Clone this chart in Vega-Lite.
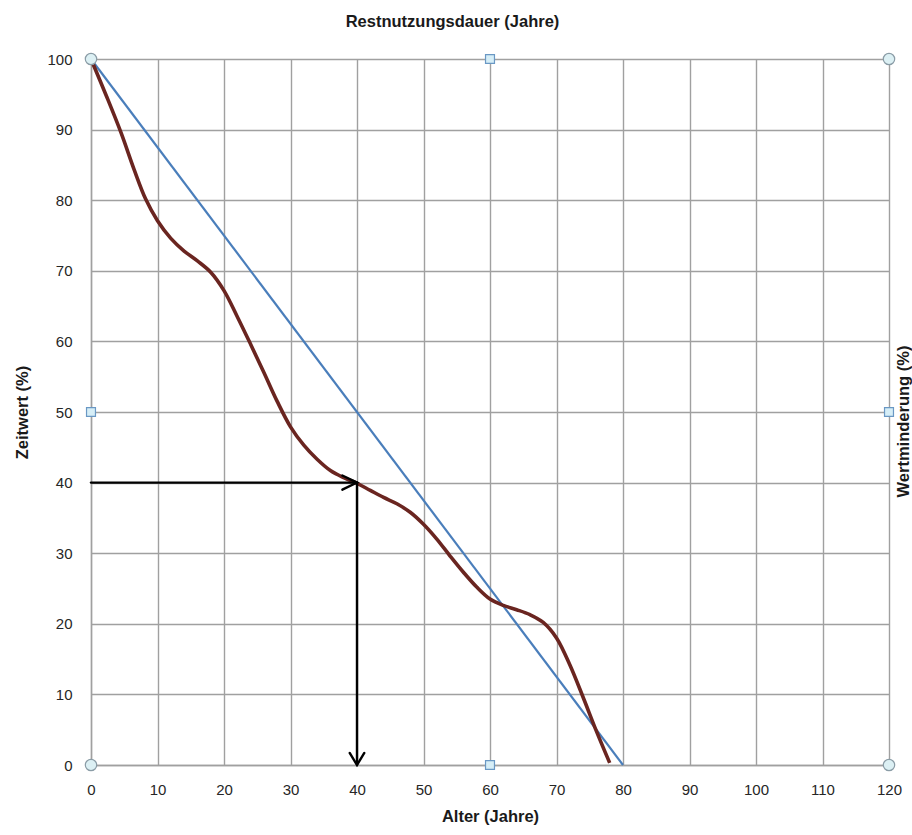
{
  "$schema": "https://vega.github.io/schema/vega-lite/v6.json",
  "width": 798,
  "height": 706,
  "autosize": {"type": "none"},
  "padding": {"left": 91, "top": 59, "right": 23, "bottom": 70},
  "background": "white",
  "config": {
    "view": {"stroke": null},
    "font": "Liberation Sans",
    "axis": {
      "labelFont": "Liberation Sans",
      "labelFontSize": 15,
      "labelColor": "#262626",
      "labelFlush": false,
      "labelOverlap": false,
      "titleFont": "Liberation Sans",
      "titleFontSize": 16.5,
      "titleFontWeight": "bold",
      "titleColor": "#1a1a1a",
      "gridColor": "#a0a0a0",
      "gridWidth": 1.4,
      "gridOpacity": 1,
      "domainColor": "#a0a0a0",
      "domainWidth": 1.4,
      "ticks": false
    }
  },
  "datasets": {
    "kurve": [
      {"alter": 0, "wert": 100}, {"alter": 2.3, "wert": 94.8}, {"alter": 4.5, "wert": 89.6},
      {"alter": 6.5, "wert": 84.3}, {"alter": 8.2, "wert": 80.2}, {"alter": 10, "wert": 77.1},
      {"alter": 12, "wert": 74.6}, {"alter": 14, "wert": 72.8}, {"alter": 16, "wert": 71.4},
      {"alter": 18, "wert": 69.8}, {"alter": 20, "wert": 67.2},
      {"alter": 22, "wert": 63.5}, {"alter": 24, "wert": 59.6},
      {"alter": 26, "wert": 55.6}, {"alter": 28, "wert": 51.5},
      {"alter": 30, "wert": 47.9}, {"alter": 32, "wert": 45.3},
      {"alter": 34, "wert": 43.3}, {"alter": 36, "wert": 41.7}, {"alter": 38, "wert": 40.7},
      {"alter": 40, "wert": 39.9}, {"alter": 42, "wert": 38.9}, {"alter": 44, "wert": 37.9},
      {"alter": 46, "wert": 37}, {"alter": 48, "wert": 35.8}, {"alter": 50, "wert": 34.1},
      {"alter": 52, "wert": 32}, {"alter": 54, "wert": 29.6}, {"alter": 56, "wert": 27.3},
      {"alter": 58, "wert": 25.2}, {"alter": 60, "wert": 23.5}, {"alter": 62, "wert": 22.6},
      {"alter": 64, "wert": 22}, {"alter": 66, "wert": 21.3}, {"alter": 68, "wert": 20.2},
      {"alter": 70, "wert": 18}, {"alter": 72, "wert": 14.2},
      {"alter": 74, "wert": 9.6}, {"alter": 76, "wert": 4.8}, {"alter": 78, "wert": 0.3}
    ],
    "linear": [
      {"alter": 0, "wert": 100}, {"alter": 80, "wert": 0}
    ],
    "pfeil": [
      {"seg": "h", "o": 1, "alter": 0, "wert": 40}, {"seg": "h", "o": 2, "alter": 40, "wert": 40},
      {"seg": "v", "o": 1, "alter": 40, "wert": 40}, {"seg": "v", "o": 2, "alter": 40, "wert": 0},
      {"seg": "hk", "o": 1, "alter": 37.8, "wert": 41}, {"seg": "hk", "o": 2, "alter": 40, "wert": 40}, {"seg": "hk", "o": 3, "alter": 37.8, "wert": 39},
      {"seg": "vk", "o": 1, "alter": 38.9, "wert": 1.7}, {"seg": "vk", "o": 2, "alter": 40, "wert": 0}, {"seg": "vk", "o": 3, "alter": 41.1, "wert": 1.7}
    ],
    "kreise": [
      {"alter": 0, "wert": 100}, {"alter": 120, "wert": 100}, {"alter": 0, "wert": 0}, {"alter": 120, "wert": 0}
    ],
    "quadrate": [
      {"alter": 60, "wert": 100}, {"alter": 0, "wert": 50}, {"alter": 120, "wert": 50}, {"alter": 60, "wert": 0}
    ]
  },
  "layer": [
    {
      "data": {"name": "linear"},
      "mark": {"type": "line", "color": "#4a7ebb", "strokeWidth": 2.2},
      "encoding": {
        "x": {"field": "alter", "type": "quantitative",
          "scale": {"domain": [0, 120], "nice": false},
          "axis": {"title": "Alter (Jahre)", "values": [0,10,20,30,40,50,60,70,80,90,100,110,120],
            "labelPadding": 17, "titlePadding": 11, "grid": true}},
        "y": {"field": "wert", "type": "quantitative",
          "scale": {"domain": [0, 100], "nice": false},
          "axis": {"title": "Zeitwert (%)", "values": [0,10,20,30,40,50,60,70,80,90,100],
            "labelPadding": 19, "titlePadding": 16, "grid": true}}
      }
    },
    {
      "data": {"name": "kurve"},
      "mark": {"type": "line", "color": "#6a2520", "strokeWidth": 3.6, "interpolate": "catmull-rom"},
      "encoding": {
        "x": {"field": "alter", "type": "quantitative",
          "axis": {"orient": "top", "title": "Restnutzungsdauer (Jahre)", "labels": false, "grid": false,
            "domain": false, "titlePadding": 30, "titleX": 361}},
        "y": {"field": "wert", "type": "quantitative",
          "axis": {"orient": "right", "title": "Wertminderung (%)", "labels": false, "grid": false,
            "domain": false, "titleAngle": 270, "titleBaseline": "top", "titlePadding": 6, "titleY": 362}}
      }
    },
    {
      "data": {"name": "pfeil"},
      "mark": {"type": "line", "color": "#000000", "strokeWidth": 2.4, "strokeCap": "round", "strokeJoin": "miter"},
      "encoding": {
        "x": {"field": "alter", "type": "quantitative", "axis": null},
        "y": {"field": "wert", "type": "quantitative", "axis": null},
        "detail": {"field": "seg"},
        "order": {"field": "o"}
      }
    },
    {
      "data": {"name": "kreise"},
      "mark": {"type": "point", "shape": "circle", "size": 130, "filled": true, "fill": "#dcf0f4", "stroke": "#8a9ca6", "strokeWidth": 1.2, "opacity": 1},
      "encoding": {
        "x": {"field": "alter", "type": "quantitative", "axis": null},
        "y": {"field": "wert", "type": "quantitative", "axis": null}
      }
    },
    {
      "data": {"name": "quadrate"},
      "mark": {"type": "point", "shape": "square", "size": 80, "filled": true, "fill": "#d6eef7", "stroke": "#6a98c4", "strokeWidth": 1.2, "opacity": 1},
      "encoding": {
        "x": {"field": "alter", "type": "quantitative", "axis": null},
        "y": {"field": "wert", "type": "quantitative", "axis": null}
      }
    }
  ],
  "resolve": {"axis": {"x": "independent", "y": "independent"}}
}
